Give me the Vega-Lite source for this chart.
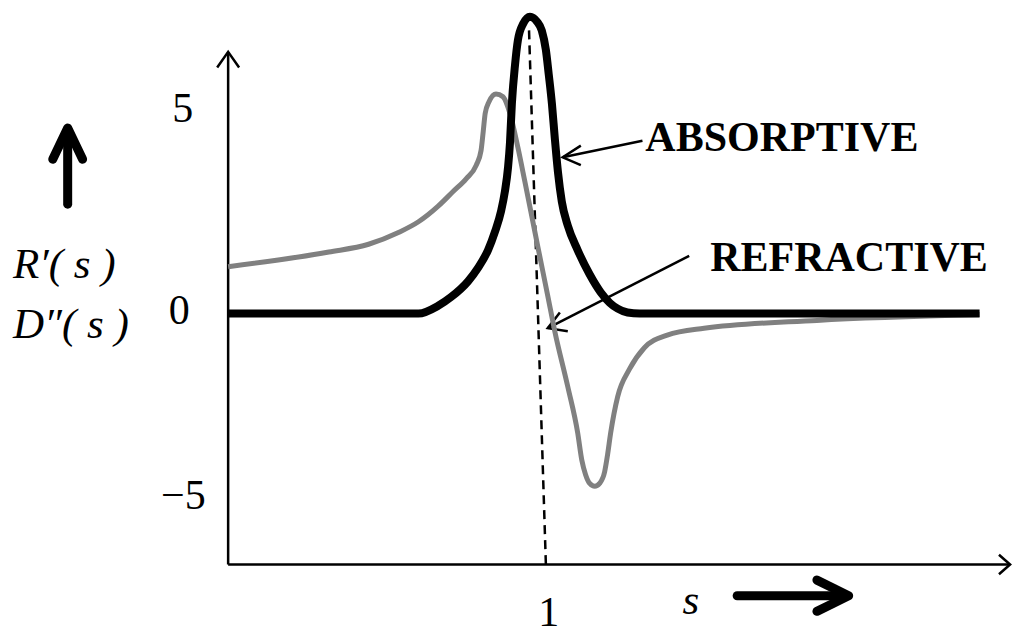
{
  "$schema": "https://vega.github.io/schema/vega-lite/v6.json",
  "width": 1016,
  "height": 634,
  "autosize": {"type": "fit", "contains": "padding"},
  "padding": 0,
  "background": "white",
  "config": {"view": {"stroke": null}},
  "datasets": {
    "curves": [
      {"c": "abs", "o": 1, "s": 0, "v": 0},
      {"c": "abs", "o": 2, "s": 0.599, "v": 0},
      {"c": "abs", "o": 3, "s": 0.661, "v": 0.19},
      {"c": "abs", "o": 4, "s": 0.702, "v": 0.405},
      {"c": "abs", "o": 5, "s": 0.755, "v": 0.786},
      {"c": "abs", "o": 6, "s": 0.787, "v": 1.119},
      {"c": "abs", "o": 7, "s": 0.818, "v": 1.548},
      {"c": "abs", "o": 8, "s": 0.84, "v": 2.0},
      {"c": "abs", "o": 9, "s": 0.859, "v": 2.5},
      {"c": "abs", "o": 10, "s": 0.871, "v": 2.976},
      {"c": "abs", "o": 11, "s": 0.881, "v": 3.571},
      {"c": "abs", "o": 12, "s": 0.887, "v": 4.167},
      {"c": "abs", "o": 13, "s": 0.893, "v": 5.119},
      {"c": "abs", "o": 14, "s": 0.903, "v": 6.071},
      {"c": "abs", "o": 15, "s": 0.912, "v": 6.667},
      {"c": "abs", "o": 16, "s": 0.928, "v": 7.06},
      {"c": "abs", "o": 17, "s": 0.95, "v": 7.24},
      {"c": "abs", "o": 18, "s": 0.972, "v": 7.12},
      {"c": "abs", "o": 19, "s": 0.987, "v": 6.905},
      {"c": "abs", "o": 20, "s": 1.0, "v": 6.429},
      {"c": "abs", "o": 21, "s": 1.009, "v": 5.833},
      {"c": "abs", "o": 22, "s": 1.019, "v": 5.119},
      {"c": "abs", "o": 23, "s": 1.028, "v": 4.286},
      {"c": "abs", "o": 24, "s": 1.038, "v": 3.452},
      {"c": "abs", "o": 25, "s": 1.05, "v": 2.738},
      {"c": "abs", "o": 26, "s": 1.069, "v": 2.143},
      {"c": "abs", "o": 27, "s": 1.1, "v": 1.548},
      {"c": "abs", "o": 28, "s": 1.138, "v": 0.952},
      {"c": "abs", "o": 29, "s": 1.172, "v": 0.524},
      {"c": "abs", "o": 30, "s": 1.201, "v": 0.262},
      {"c": "abs", "o": 31, "s": 1.226, "v": 0.119},
      {"c": "abs", "o": 32, "s": 1.257, "v": 0.024},
      {"c": "abs", "o": 33, "s": 1.295, "v": 0},
      {"c": "abs", "o": 34, "s": 2.365, "v": 0},
      {"c": "ref", "o": 1, "s": 0, "v": 1.143},
      {"c": "ref", "o": 2, "s": 0.317, "v": 1.5},
      {"c": "ref", "o": 3, "s": 0.442, "v": 1.69},
      {"c": "ref", "o": 4, "s": 0.536, "v": 1.976},
      {"c": "ref", "o": 5, "s": 0.599, "v": 2.238},
      {"c": "ref", "o": 6, "s": 0.661, "v": 2.619},
      {"c": "ref", "o": 7, "s": 0.708, "v": 2.976},
      {"c": "ref", "o": 8, "s": 0.749, "v": 3.286},
      {"c": "ref", "o": 9, "s": 0.781, "v": 3.619},
      {"c": "ref", "o": 10, "s": 0.796, "v": 3.976},
      {"c": "ref", "o": 11, "s": 0.803, "v": 4.452},
      {"c": "ref", "o": 12, "s": 0.809, "v": 4.881},
      {"c": "ref", "o": 13, "s": 0.821, "v": 5.167},
      {"c": "ref", "o": 14, "s": 0.843, "v": 5.357},
      {"c": "ref", "o": 15, "s": 0.865, "v": 5.286},
      {"c": "ref", "o": 16, "s": 0.887, "v": 4.881},
      {"c": "ref", "o": 17, "s": 0.912, "v": 4.048},
      {"c": "ref", "o": 18, "s": 0.934, "v": 3.214},
      {"c": "ref", "o": 19, "s": 0.975, "v": 1.619},
      {"c": "ref", "o": 20, "s": 1.006, "v": 0.429},
      {"c": "ref", "o": 21, "s": 1.028, "v": -0.429},
      {"c": "ref", "o": 22, "s": 1.069, "v": -1.786},
      {"c": "ref", "o": 23, "s": 1.1, "v": -2.905},
      {"c": "ref", "o": 24, "s": 1.113, "v": -3.571},
      {"c": "ref", "o": 25, "s": 1.125, "v": -3.929},
      {"c": "ref", "o": 26, "s": 1.138, "v": -4.143},
      {"c": "ref", "o": 27, "s": 1.154, "v": -4.214},
      {"c": "ref", "o": 28, "s": 1.169, "v": -4.143},
      {"c": "ref", "o": 29, "s": 1.185, "v": -3.857},
      {"c": "ref", "o": 30, "s": 1.194, "v": -3.452},
      {"c": "ref", "o": 31, "s": 1.204, "v": -2.905},
      {"c": "ref", "o": 32, "s": 1.226, "v": -2.024},
      {"c": "ref", "o": 33, "s": 1.263, "v": -1.357},
      {"c": "ref", "o": 34, "s": 1.31, "v": -0.833},
      {"c": "ref", "o": 35, "s": 1.382, "v": -0.524},
      {"c": "ref", "o": 36, "s": 1.498, "v": -0.357},
      {"c": "ref", "o": 37, "s": 1.853, "v": -0.167},
      {"c": "ref", "o": 38, "s": 2.365, "v": -0.024}
    ],
    "thin": [
      {"g": "yaxis", "o": 1, "s": 0, "v": -6.119},
      {"g": "yaxis", "o": 2, "s": 0, "v": 6.381},
      {"g": "yhead", "o": 1, "s": -0.0345, "v": 6.0},
      {"g": "yhead", "o": 2, "s": 0, "v": 6.381},
      {"g": "yhead", "o": 3, "s": 0.0345, "v": 6.0},
      {"g": "xaxis", "o": 1, "s": 0, "v": -6.119},
      {"g": "xaxis", "o": 2, "s": 2.461, "v": -6.119},
      {"g": "xhead", "o": 1, "s": 2.426, "v": -5.881},
      {"g": "xhead", "o": 2, "s": 2.461, "v": -6.119},
      {"g": "xhead", "o": 3, "s": 2.426, "v": -6.357},
      {"g": "aarrow", "o": 1, "s": 1.304, "v": 4.214},
      {"g": "aarrow", "o": 2, "s": 1.053, "v": 3.81},
      {"g": "ahead", "o": 1, "s": 1.11, "v": 4.095},
      {"g": "ahead", "o": 2, "s": 1.053, "v": 3.81},
      {"g": "ahead", "o": 3, "s": 1.11, "v": 3.619},
      {"g": "rarrow", "o": 1, "s": 1.451, "v": 1.405},
      {"g": "rarrow", "o": 2, "s": 1.006, "v": -0.357},
      {"g": "rhead", "o": 1, "s": 1.044, "v": 0.024},
      {"g": "rhead", "o": 2, "s": 1.006, "v": -0.357},
      {"g": "rhead", "o": 3, "s": 1.069, "v": -0.429}
    ],
    "thick": [
      {"g": "ushaft", "o": 1, "s": -0.505, "v": 2.667},
      {"g": "ushaft", "o": 2, "s": -0.505, "v": 4.4},
      {"g": "uhead", "o": 1, "s": -0.552, "v": 3.762},
      {"g": "uhead", "o": 2, "s": -0.505, "v": 4.524},
      {"g": "uhead", "o": 3, "s": -0.458, "v": 3.762},
      {"g": "rshaft", "o": 1, "s": 1.602, "v": -6.881},
      {"g": "rshaft", "o": 2, "s": 1.93, "v": -6.881},
      {"g": "rhead2", "o": 1, "s": 1.853, "v": -6.5},
      {"g": "rhead2", "o": 2, "s": 1.953, "v": -6.881},
      {"g": "rhead2", "o": 3, "s": 1.853, "v": -7.262}
    ],
    "dash": [
      {"o": 1, "s": 0.947, "v": 6.905},
      {"o": 2, "s": 1.0, "v": -6.119}
    ],
    "ticks": [
      {"t": "5", "s": -0.143, "v": 5.0},
      {"t": "0", "s": -0.154, "v": 0.07},
      {"t": "−5", "s": -0.141, "v": -4.45},
      {"t": "1", "s": 1.009, "v": -7.3}
    ],
    "italics": [
      {"t": "R′( s )", "s": -0.677, "v": 1.19},
      {"t": "D″( s )", "s": -0.677, "v": -0.286},
      {"t": "s", "s": 1.43, "v": -7.02}
    ],
    "bold": [
      {"t": "ABSORPTIVE", "s": 1.313, "v": 4.286},
      {"t": "REFRACTIVE", "s": 1.517, "v": 1.357}
    ]
  },
  "encoding": {
    "x": {"field": "s", "type": "quantitative", "scale": {"domain": [-0.718, 2.467], "nice": false, "zero": false}, "axis": null},
    "y": {"field": "v", "type": "quantitative", "scale": {"domain": [-7.595, 7.5], "nice": false, "zero": false}, "axis": null}
  },
  "layer": [
    {
      "data": {"name": "thin"},
      "mark": {"type": "line", "color": "black", "strokeWidth": 2.5, "strokeCap": "butt", "strokeJoin": "miter"},
      "encoding": {"detail": {"field": "g"}, "order": {"field": "o"}}
    },
    {
      "data": {"name": "dash"},
      "mark": {"type": "line", "color": "black", "strokeWidth": 2.5, "strokeDash": [9, 6]},
      "encoding": {"order": {"field": "o"}}
    },
    {
      "data": {"name": "curves"},
      "transform": [{"filter": "datum.c === 'ref'"}],
      "mark": {"type": "line", "color": "#808080", "strokeWidth": 5, "interpolate": "monotone"},
      "encoding": {"order": {"field": "o"}}
    },
    {
      "data": {"name": "curves"},
      "transform": [{"filter": "datum.c === 'abs'"}],
      "mark": {"type": "line", "color": "black", "strokeWidth": 8, "interpolate": "monotone"},
      "encoding": {"order": {"field": "o"}}
    },
    {
      "data": {"name": "thick"},
      "mark": {"type": "line", "color": "black", "strokeWidth": 9, "strokeCap": "round", "strokeJoin": "round"},
      "encoding": {"detail": {"field": "g"}, "order": {"field": "o"}}
    },
    {
      "data": {"name": "ticks"},
      "mark": {"type": "text", "font": "Liberation Serif", "fontSize": 42, "align": "center", "baseline": "middle", "color": "black"},
      "encoding": {"text": {"field": "t"}}
    },
    {
      "data": {"name": "italics"},
      "mark": {"type": "text", "font": "Liberation Serif", "fontStyle": "italic", "fontSize": 43, "align": "left", "baseline": "middle", "color": "black"},
      "encoding": {"text": {"field": "t"}}
    },
    {
      "data": {"name": "bold"},
      "mark": {"type": "text", "font": "Liberation Serif", "fontWeight": "bold", "fontSize": 42, "align": "left", "baseline": "middle", "color": "black"},
      "encoding": {"text": {"field": "t"}}
    }
  ]
}
